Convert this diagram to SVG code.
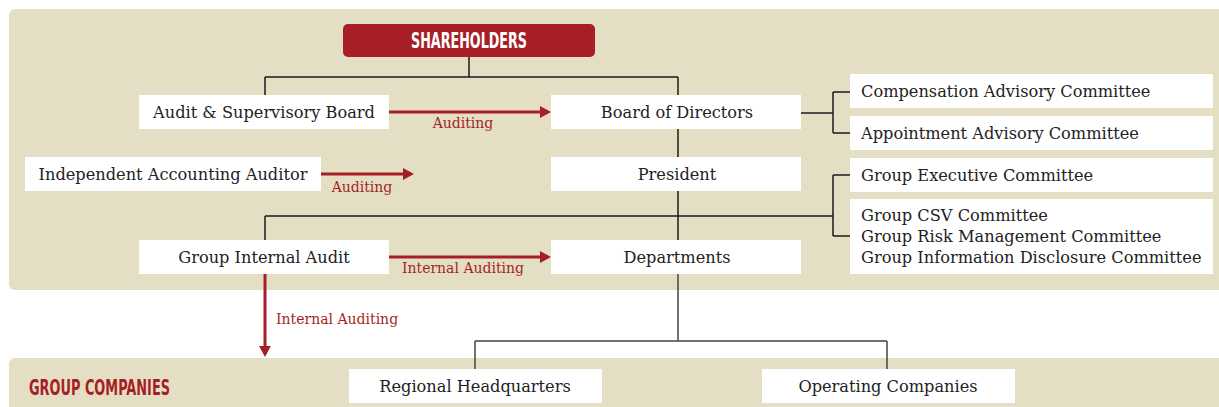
<svg xmlns="http://www.w3.org/2000/svg" width="1219" height="407" viewBox="0 0 1219 407">
<defs>
<style>
.panel{fill:#e4dfc4}
.box{fill:#ffffff}
.t{font-family:"DejaVu Serif","Liberation Serif",serif;font-size:16.2px;fill:#222222}
.lab{font-family:"DejaVu Serif","Liberation Serif",serif;font-size:14px;fill:#a61f26}
.hd{font-family:"DejaVu Sans Condensed","Liberation Sans Narrow","Liberation Sans",sans-serif;font-weight:bold;font-size:21px}
.ln{fill:none;stroke:#1a1a1a;stroke-width:1.5}
.ln2{fill:none;stroke:#444444;stroke-width:1.5}
.ar{fill:none;stroke:#a61f26;stroke-width:3}
</style>
<marker id="ah" markerWidth="4" markerHeight="4" refX="2.7" refY="2" orient="auto" markerUnits="strokeWidth">
<path d="M0,0 L3.7,2 L0,4 Z" fill="#a61f26"/>
</marker>
</defs>
<rect x="0" y="0" width="1219" height="407" fill="#ffffff"/>
<rect class="panel" x="9" y="9" width="1220" height="281" rx="6"/>
<rect class="panel" x="9" y="358" width="1220" height="60" rx="6"/>

<g id="connectors">
<path class="ln" d="M469,57 V77 M265,77 H678 M265,77 V95 M678,77 V240"/>
<path class="ln" d="M801,113 H833 M833,92 V133 M833,92 H850 M833,133 H850"/>
<path class="ln" d="M265,216 H833 M265,216 V240 M833,175 V236 M833,175 H850 M833,236 H850"/>
<path class="ln2" d="M678,274 V341 M475,341 H887 M475,341 V369 M887,341 V369"/>
<path class="ar" d="M389,112 H548" marker-end="url(#ah)"/>
<path class="ar" d="M321,174 H411" marker-end="url(#ah)"/>
<path class="ar" d="M389,257 H548" marker-end="url(#ah)"/>
<path class="ar" d="M265,274 V354" marker-end="url(#ah)"/>
<text class="lab" x="463" y="128" text-anchor="middle">Auditing</text>
<text class="lab" x="362" y="192" text-anchor="middle">Auditing</text>
<text class="lab" x="463" y="273" text-anchor="middle">Internal Auditing</text>
<text class="lab" x="276" y="324">Internal Auditing</text>
</g>

<g id="shareholders">
<rect x="343" y="24" width="252" height="33" rx="5" fill="#a61f26"/>
<text class="hd" x="469" y="48" text-anchor="middle" fill="#ffffff" textLength="116" lengthAdjust="spacingAndGlyphs">SHAREHOLDERS</text>
</g>
<g id="audit-board">
<rect class="box" x="139" y="95" width="250" height="34"/>
<text class="t" x="264" y="118" text-anchor="middle">Audit &amp; Supervisory Board</text>
</g>
<g id="board-directors">
<rect class="box" x="551" y="95" width="250" height="34"/>
<text class="t" x="677" y="118" text-anchor="middle">Board of Directors</text>
</g>
<g id="compensation">
<rect class="box" x="850" y="74" width="363" height="34"/>
<text class="t" x="861" y="97">Compensation Advisory Committee</text>
</g>
<g id="appointment">
<rect class="box" x="850" y="116" width="363" height="34"/>
<text class="t" x="861" y="139">Appointment Advisory Committee</text>
</g>
<g id="independent-auditor">
<rect class="box" x="25" y="157" width="296" height="34"/>
<text class="t" x="173" y="180" text-anchor="middle">Independent Accounting Auditor</text>
</g>
<g id="president">
<rect class="box" x="551" y="157" width="250" height="34"/>
<text class="t" x="677" y="180" text-anchor="middle">President</text>
</g>
<g id="group-executive">
<rect class="box" x="850" y="158" width="363" height="34"/>
<text class="t" x="861" y="181">Group Executive Committee</text>
</g>
<g id="group-committees">
<rect class="box" x="850" y="199" width="363" height="75"/>
<text class="t" x="861" y="221">Group CSV Committee</text>
<text class="t" x="861" y="242">Group Risk Management Committee</text>
<text class="t" x="861" y="263">Group Information Disclosure Committee</text>
</g>
<g id="group-internal-audit">
<rect class="box" x="139" y="240" width="250" height="34"/>
<text class="t" x="264" y="263" text-anchor="middle">Group Internal Audit</text>
</g>
<g id="departments">
<rect class="box" x="551" y="240" width="250" height="34"/>
<text class="t" x="677" y="263" text-anchor="middle">Departments</text>
</g>
<g id="group-companies">
<text class="hd" x="29" y="395" fill="#a61f26" textLength="141" lengthAdjust="spacingAndGlyphs">GROUP COMPANIES</text>
</g>
<g id="regional-hq">
<rect class="box" x="349" y="369" width="253" height="34"/>
<text class="t" x="475" y="392" text-anchor="middle">Regional Headquarters</text>
</g>
<g id="operating-companies">
<rect class="box" x="762" y="369" width="253" height="34"/>
<text class="t" x="888" y="392" text-anchor="middle">Operating Companies</text>
</g>
</svg>
